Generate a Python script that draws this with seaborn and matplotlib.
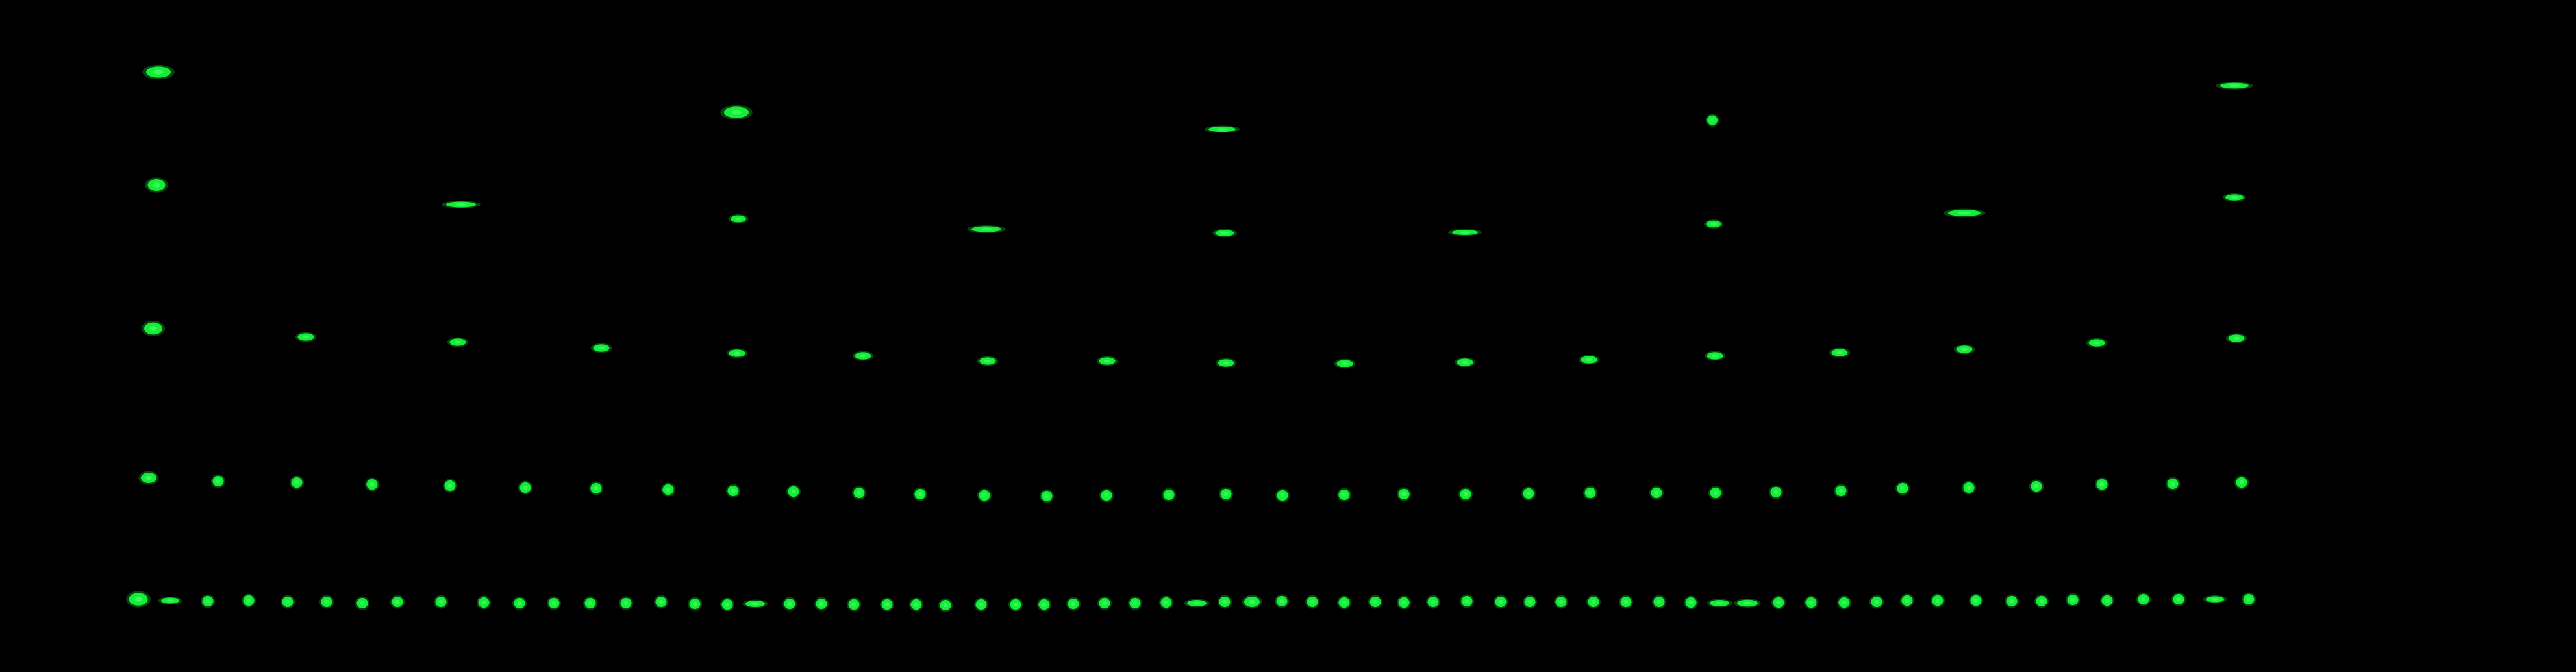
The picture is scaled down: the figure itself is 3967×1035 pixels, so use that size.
import matplotlib

matplotlib.use("Agg")

import matplotlib.pyplot as plt  # noqa: E402
import numpy as np  # noqa: E402
import pandas as pd  # noqa: E402
import seaborn as sns  # noqa: E402
from matplotlib.path import Path  # noqa: E402

# spot positions (pixel units, y grows downward)
ROW1_X = [244, 1134, 1882, 2637, 3441]
ROW1_Y = [111, 173, 199, 185, 132]

ROW2_X = [241, 710, 1137, 1519, 1886, 2256, 2639, 3025, 3441]
ROW2_Y = [285, 315, 337, 353, 359, 358, 345, 328, 304]

ROW3_X = [236, 471, 705, 926, 1135, 1329, 1521, 1705, 1888, 2071, 2256,
          2447, 2641, 2833, 3025, 3229, 3444]
ROW3_Y = [506, 519, 527, 536, 544, 548, 556, 556, 559, 560, 558,
          554, 548, 543, 538, 528, 521]

ROW4_X = [229, 336, 457, 573, 693, 809, 918, 1029, 1129, 1222, 1323,
          1417, 1516, 1612, 1704, 1800, 1888, 1975, 2070, 2162, 2257,
          2354, 2449, 2551, 2642, 2735, 2835, 2930, 3032, 3136, 3237,
          3346, 3452]
ROW4_Y = [736, 741, 743, 746, 748, 751, 752, 754, 756, 757, 759,
          761, 763, 764, 763, 762, 761, 763, 762, 761, 761,
          760, 759, 759, 759, 758, 756, 752, 751, 749, 746,
          745, 743]

ROW5_X = [213, 262, 320, 383, 443, 503, 558, 612, 679, 745, 800, 853,
          909, 964, 1018, 1070, 1120, 1163, 1216, 1265, 1315, 1366,
          1411, 1456, 1511, 1564, 1608, 1653, 1701, 1748, 1796, 1843,
          1886, 1928, 1974, 2021, 2070, 2118, 2162, 2207, 2259, 2311,
          2356, 2404, 2454, 2504, 2555, 2604, 2648, 2691, 2739, 2789,
          2840, 2890, 2937, 2984, 3043, 3098, 3144, 3192, 3245, 3301,
          3355, 3411, 3463]
ROW5_Y = [923, 925, 926, 925, 927, 927, 929, 927, 927, 928, 929, 929,
          929, 929, 927, 930, 931, 930, 930, 930, 931, 931,
          931, 932, 931, 931, 931, 930, 929, 929, 928, 929,
          927, 927, 926, 927, 928, 927, 928, 927, 926, 927,
          927, 927, 927, 927, 927, 928, 929, 929, 928, 928,
          928, 927, 925, 925, 925, 926, 926, 924, 925, 923,
          923, 923, 923]

# blob look: (shape, width in px) per row, plus the odd stretched spots
ASPECT = {"dot": 1.05, "plump": 1.5, "oval": 2.2, "bar": 3.0, "streak": 5.0}
ROW_STYLE = {1: ("oval", 38), 2: ("oval", 24), 3: ("oval", 25),
             4: ("dot", 17), 5: ("dot", 17)}
OVERRIDES = {
    (1, 2): ("streak", 42), (1, 3): ("dot", 16), (1, 4): ("streak", 44),
    (2, 0): ("plump", 27), (2, 1): ("streak", 46), (2, 3): ("streak", 46),
    (2, 4): ("bar", 29), (2, 5): ("streak", 40), (2, 6): ("oval", 23),
    (2, 7): ("streak", 50), (2, 8): ("bar", 28),
    (3, 0): ("plump", 28),
    (4, 0): ("plump", 24),
    (5, 0): ("plump", 29), (5, 1): ("bar", 28), (5, 17): ("bar", 30),
    (5, 31): ("bar", 30), (5, 33): ("plump", 24), (5, 48): ("bar", 30),
    (5, 49): ("bar", 32), (5, 63): ("bar", 28),
}


def ellipse_marker(aspect):
    t = np.linspace(0, 2 * np.pi, 40)
    verts = np.column_stack([np.cos(t), np.sin(t) / aspect])
    return Path(verts, closed=True)


rows = []
for r, (xs, ys) in enumerate(
    [(ROW1_X, ROW1_Y), (ROW2_X, ROW2_Y), (ROW3_X, ROW3_Y),
     (ROW4_X, ROW4_Y), (ROW5_X, ROW5_Y)], start=1
):
    for i, (x, y) in enumerate(zip(xs, ys)):
        shape, w = OVERRIDES.get((r, i), ROW_STYLE[r])
        rows.append({"row": r, "x": x, "y": y, "shape": shape, "w": w})
df = pd.DataFrame(rows)

W, H = 3967, 1035
fig = plt.figure(figsize=(W / 100, H / 100), dpi=100, facecolor="black")
ax = fig.add_axes([0, 0, 1, 1])
ax.set_facecolor("black")

px = 0.72  # points per pixel at dpi 100
layers = [
    (1.3, "#08731a", 0.6),   # soft halo
    (1.0, "#14ee38", 1.0),   # body
    (0.4, "#55ff78", 0.6),   # brighter core
]
for shape, sub in df.groupby("shape"):
    marker = ellipse_marker(ASPECT[shape])
    for scale, color, alpha in layers:
        sizes = {w: (w * px * scale) ** 2 for w in sub["w"].unique()}
        sns.scatterplot(data=sub, x="x", y="y", size="w", sizes=sizes,
                        marker=marker, color=color, alpha=alpha,
                        linewidth=0, legend=False, ax=ax)

ax.set_xlim(0, W)
ax.set_ylim(H, 0)
ax.axis("off")

fig.savefig("out.png", dpi=100, facecolor="black")
plt.close(fig)
